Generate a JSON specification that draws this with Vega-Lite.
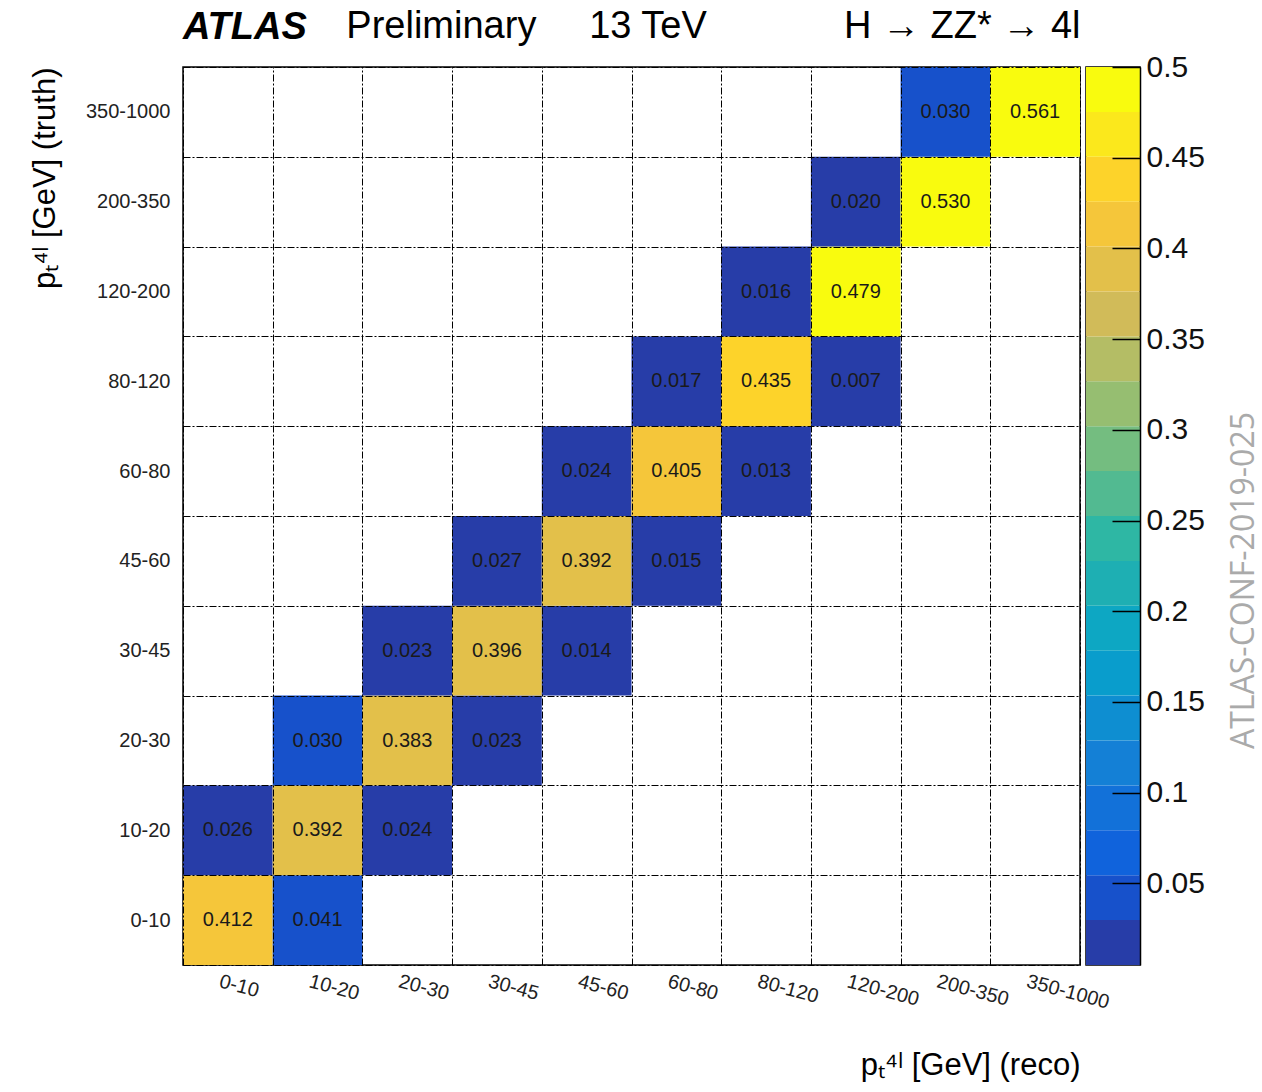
{
  "$schema": "https://vega.github.io/schema/vega-lite/v6.json",
  "background": "white",
  "padding": {"left": 28, "top": 6, "right": 5, "bottom": 5},
  "config": {
    "font": "Liberation Sans",
    "view": {"stroke": "black", "strokeWidth": 1.5},
    "concat": {"spacing": 6}
  },
  "bounds": "flush",
  "datasets": {
    "cells": [
      {"reco": "0-10", "truth": "0-10", "frac": 0.412},
      {"reco": "10-20", "truth": "0-10", "frac": 0.041},
      {"reco": "0-10", "truth": "10-20", "frac": 0.026},
      {"reco": "10-20", "truth": "10-20", "frac": 0.392},
      {"reco": "20-30", "truth": "10-20", "frac": 0.024},
      {"reco": "10-20", "truth": "20-30", "frac": 0.030},
      {"reco": "20-30", "truth": "20-30", "frac": 0.383},
      {"reco": "30-45", "truth": "20-30", "frac": 0.023},
      {"reco": "20-30", "truth": "30-45", "frac": 0.023},
      {"reco": "30-45", "truth": "30-45", "frac": 0.396},
      {"reco": "45-60", "truth": "30-45", "frac": 0.014},
      {"reco": "30-45", "truth": "45-60", "frac": 0.027},
      {"reco": "45-60", "truth": "45-60", "frac": 0.392},
      {"reco": "60-80", "truth": "45-60", "frac": 0.015},
      {"reco": "45-60", "truth": "60-80", "frac": 0.024},
      {"reco": "60-80", "truth": "60-80", "frac": 0.405},
      {"reco": "80-120", "truth": "60-80", "frac": 0.013},
      {"reco": "60-80", "truth": "80-120", "frac": 0.017},
      {"reco": "80-120", "truth": "80-120", "frac": 0.435},
      {"reco": "120-200", "truth": "80-120", "frac": 0.007},
      {"reco": "80-120", "truth": "120-200", "frac": 0.016},
      {"reco": "120-200", "truth": "120-200", "frac": 0.479},
      {"reco": "120-200", "truth": "200-350", "frac": 0.020},
      {"reco": "200-350", "truth": "200-350", "frac": 0.530},
      {"reco": "200-350", "truth": "350-1000", "frac": 0.030},
      {"reco": "350-1000", "truth": "350-1000", "frac": 0.561}
    ],
    "palette": [
      {"lo": 0.005, "hi": 0.02975, "z": 0.017375},
      {"lo": 0.02975, "hi": 0.0545, "z": 0.042125},
      {"lo": 0.0545, "hi": 0.07925, "z": 0.066875},
      {"lo": 0.07925, "hi": 0.104, "z": 0.091625},
      {"lo": 0.104, "hi": 0.12875, "z": 0.116375},
      {"lo": 0.12875, "hi": 0.1535, "z": 0.141125},
      {"lo": 0.1535, "hi": 0.17825, "z": 0.165875},
      {"lo": 0.17825, "hi": 0.203, "z": 0.190625},
      {"lo": 0.203, "hi": 0.22775, "z": 0.215375},
      {"lo": 0.22775, "hi": 0.2525, "z": 0.240125},
      {"lo": 0.2525, "hi": 0.27725, "z": 0.264875},
      {"lo": 0.27725, "hi": 0.302, "z": 0.289625},
      {"lo": 0.302, "hi": 0.32675, "z": 0.314375},
      {"lo": 0.32675, "hi": 0.3515, "z": 0.339125},
      {"lo": 0.3515, "hi": 0.37625, "z": 0.363875},
      {"lo": 0.37625, "hi": 0.401, "z": 0.388625},
      {"lo": 0.401, "hi": 0.42575, "z": 0.413375},
      {"lo": 0.42575, "hi": 0.4505, "z": 0.438125},
      {"lo": 0.4505, "hi": 0.47525, "z": 0.462875},
      {"lo": 0.47525, "hi": 0.5, "z": 0.487625}
    ]
  },
  "hconcat": [
    {
      "width": 897,
      "height": 898,
      "data": {"name": "cells"},
      "title": {
        "text": "ATLAS",
        "anchor": "start",
        "frame": "group",
        "fontSize": 38,
        "fontStyle": "italic",
        "fontWeight": "bold",
        "color": "black",
        "offset": -40
      },
      "resolve": {"axis": {"x": "independent"}},
      "layer": [
        {
          "mark": {"type": "rect"},
          "encoding": {
            "x": {
              "field": "reco", "type": "ordinal",
              "sort": ["0-10", "10-20", "20-30", "30-45", "45-60", "60-80", "80-120", "120-200", "200-350", "350-1000"],
              "scale": {"paddingInner": 0, "paddingOuter": 0},
              "axis": {
                "title": "pₜ⁴ˡ [GeV] (reco)", "titleAnchor": "end", "titleFontSize": 31, "titleFontWeight": "normal", "titleColor": "black", "titlePadding": 38,
                "labelAngle": 15, "labelAlign": "left", "labelBaseline": "top", "labelFontSize": 20, "labelColor": "#222", "labelPadding": 6, "labelOffset": -6,
                "ticks": false, "domain": false,
                "grid": true, "tickBand": "extent", "gridColor": "black", "gridDash": [7, 2, 2, 2], "gridWidth": 1, "gridOpacity": 1, "zindex": 1
              }
            },
            "y": {
              "field": "truth", "type": "ordinal",
              "sort": ["350-1000", "200-350", "120-200", "80-120", "60-80", "45-60", "30-45", "20-30", "10-20", "0-10"],
              "scale": {"paddingInner": 0, "paddingOuter": 0},
              "axis": {
                "title": "pₜ⁴ˡ [GeV] (truth)", "titleAnchor": "start", "titleAlign": "right", "titleFontSize": 31, "titleFontWeight": "normal", "titleColor": "black", "titlePadding": 24,
                "labelFontSize": 20, "labelColor": "#222", "labelPadding": 13,
                "ticks": false, "domain": false,
                "grid": true, "tickBand": "extent", "gridColor": "black", "gridDash": [7, 2, 2, 2], "gridWidth": 1, "gridOpacity": 1, "zindex": 1
              }
            },
            "color": {
              "field": "frac", "type": "quantitative",
              "scale": {"type": "quantize", "domain": [0.005, 0.5], "range": ["#273DA8", "#1751CB", "#1063DC", "#1271D9", "#1480D6", "#0E8ED1", "#099DCC", "#0DA7C3", "#1EAFB3", "#2EB7A4", "#52BA91", "#74BD80", "#96BE71", "#B4BD65", "#D1BB59", "#E3C04A", "#F5C63A", "#FDD32A", "#FBE81C", "#F9FB0E"]},
              "legend": null
            }
          }
        },
        {
          "mark": {"type": "text", "fontSize": 20, "color": "#1a1a1a"},
          "encoding": {
            "x": {
              "field": "reco", "type": "ordinal",
              "sort": ["0-10", "10-20", "20-30", "30-45", "45-60", "60-80", "80-120", "120-200", "200-350", "350-1000"],
              "axis": {
                "orient": "top", "labels": false, "ticks": false, "domain": false, "grid": false,
                "title": "Preliminary\u00a0\u00a0\u00a0\u00a0\u00a013 TeV\u00a0\u00a0\u00a0\u00a0\u00a0\u00a0\u00a0\u00a0\u00a0\u00a0\u00a0\u00a0\u00a0H → ZZ* → 4l", "titleAnchor": "end", "titleFontSize": 38, "titleFontWeight": "normal", "titleColor": "black", "titlePadding": 22
              }
            },
            "y": {
              "field": "truth", "type": "ordinal",
              "sort": ["350-1000", "200-350", "120-200", "80-120", "60-80", "45-60", "30-45", "20-30", "10-20", "0-10"]
            },
            "text": {"field": "frac", "type": "quantitative", "format": ".3f"}
          }
        }
      ]
    },
    {
      "width": 54,
      "height": 898,
      "data": {"name": "palette"},
      "mark": {"type": "rect"},
      "encoding": {
        "y": {
          "field": "lo", "type": "quantitative",
          "scale": {"domain": [0.005, 0.5], "nice": false, "zero": false},
          "axis": {
            "orient": "right", "values": [0.05, 0.1, 0.15, 0.2, 0.25, 0.3, 0.35, 0.4, 0.45, 0.5], "format": "~g",
            "labelFontSize": 30, "labelColor": "#111", "labelPadding": 34, "labelFlush": false, "labelOverlap": false, "labelBaseline": "middle",
            "tickSize": -28, "tickColor": "black", "tickWidth": 1.5, "domainColor": "black", "domainWidth": 1.5, "grid": false, "zindex": 1,
            "title": "ATLAS-CONF-2019-025", "titleFont": "Open Sans", "titleFontSize": 32, "titleFontWeight": "normal", "titleColor": "#aaaaaa", "titleAngle": 270, "titleY": 513, "titleX": 103, "titleBaseline": "middle", "titleAlign": "center"
          }
        },
        "y2": {"field": "hi"},
        "color": {"field": "z", "type": "quantitative", "scale": {"type": "quantize", "domain": [0.005, 0.5], "range": ["#273DA8", "#1751CB", "#1063DC", "#1271D9", "#1480D6", "#0E8ED1", "#099DCC", "#0DA7C3", "#1EAFB3", "#2EB7A4", "#52BA91", "#74BD80", "#96BE71", "#B4BD65", "#D1BB59", "#E3C04A", "#F5C63A", "#FDD32A", "#FBE81C", "#F9FB0E"]}, "legend": null}
      }
    }
  ]
}
